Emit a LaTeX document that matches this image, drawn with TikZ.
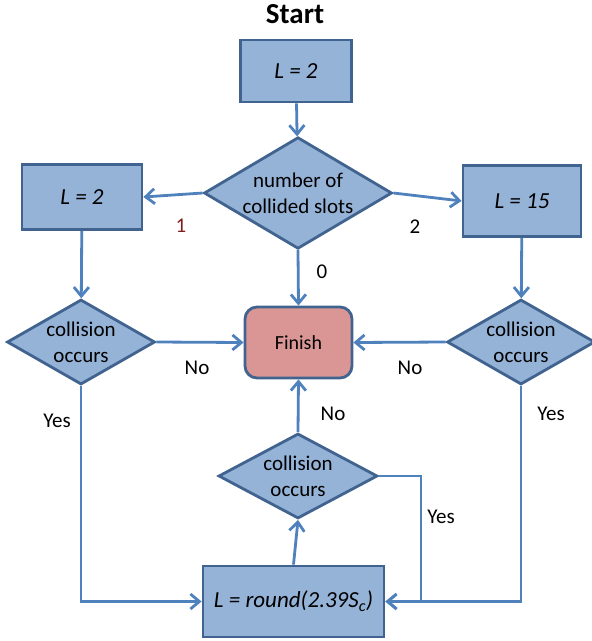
\documentclass[tikz,border=0pt]{standalone}
\usepackage{fontspec}
\setmainfont{Carlito}
\usetikzlibrary{shapes.geometric,arrows.meta}
\definecolor{boxfill}{HTML}{95B3D7}
\definecolor{boxline}{HTML}{41638F}
\definecolor{connline}{HTML}{4F81BD}
\definecolor{finfill}{HTML}{D99694}
\definecolor{onered}{HTML}{7F1F1F}
\tikzset{
  box/.style={draw=boxline,fill=boxfill,line width=2.8pt,inner sep=0pt,
    font=\itshape\fontsize{23}{26}\selectfont},
  decision/.style={diamond,draw=boxline,fill=boxfill,line width=2.8pt,
    inner sep=-10pt,align=center,font=\fontsize{21}{26}\selectfont},
  finish/.style={draw=boxline,fill=finfill,line width=2.8pt,rounded corners=12pt,
    font=\fontsize{20}{24}\selectfont},
  conn/.style={draw=connline,line width=2.8pt,-{Straight Barb[length=9pt,width=15pt,line width=2.8pt]}},
  lbl/.style={font=\fontsize{21}{24}\selectfont,inner sep=0pt}
}
\begin{document}
\begin{tikzpicture}[x=1pt,y=-1pt]
\useasboundingbox (0,0) rectangle (592,641);
% boxes
\node[lbl,font=\bfseries\fontsize{29}{30}\selectfont] (start) at (295,14) {Start};
\node[box,minimum width=111pt,minimum height=62pt] (init) at (296,71) {L = 2};
\node[decision,minimum width=188pt,minimum height=102pt] (count) at (298,193) {number of\\collided slots};
\node[box,minimum width=120pt,minimum height=65pt] (lone) at (82,197) {L = 2};
\node[box,minimum width=118pt,minimum height=71pt] (ltwo) at (522,201) {L = 15};
\node[finish,minimum width=107pt,minimum height=71pt] (fin) at (298.5,342.5) {Finish};
\node[decision,minimum width=148pt,minimum height=85pt] (colleft) at (81,342) {collision\\occurs};
\node[decision,minimum width=148pt,minimum height=85pt] (colright) at (521,342) {collision\\occurs};
\node[decision,minimum width=159pt,minimum height=85pt] (colloop) at (298,476) {collision\\occurs};
\node[box,minimum width=181pt,minimum height=71pt] (recalc) at (293.5,601.5) {L = round(2.39S\textsubscript{c})};
\coordinate (loopturn) at (421,476);
% connectors
\draw[conn] (init) -- (count);
\draw[conn] (count.west) -- (lone.east);
\draw[conn] (count.east) -- (ltwo.west);
\draw[conn] (count.south) -- (fin.north);
\draw[conn] (lone) -- (colleft);
\draw[conn] (ltwo) -- (colright);
\draw[conn] (colleft.east) -- (fin.west);
\draw[conn] (colright.west) -- (fin.east);
\draw[conn] (colloop.north) -- (fin.south);
\draw[conn] (recalc.north) -- (colloop.south);
\draw[conn] (colloop.east) -- (loopturn) |- (recalc.east);
\draw[conn] (colleft.south) |- (recalc.west);
\draw[conn] (colright.south) |- (recalc.east);
% labels
\node[lbl,text=onered] (lblone) at (181,226) {1};
\node[lbl] (lbltwo) at (415,227) {2};
\node[lbl] (lblzero) at (322,272) {0};
\node[lbl] (noleft) at (197,368) {No};
\node[lbl] (noright) at (410,368) {No};
\node[lbl] (noloop) at (333,414) {No};
\node[lbl] (yesleft) at (57,421) {Yes};
\node[lbl] (yesright) at (551,414) {Yes};
\node[lbl] (yesloop) at (441,517) {Yes};
\end{tikzpicture}
\end{document}
